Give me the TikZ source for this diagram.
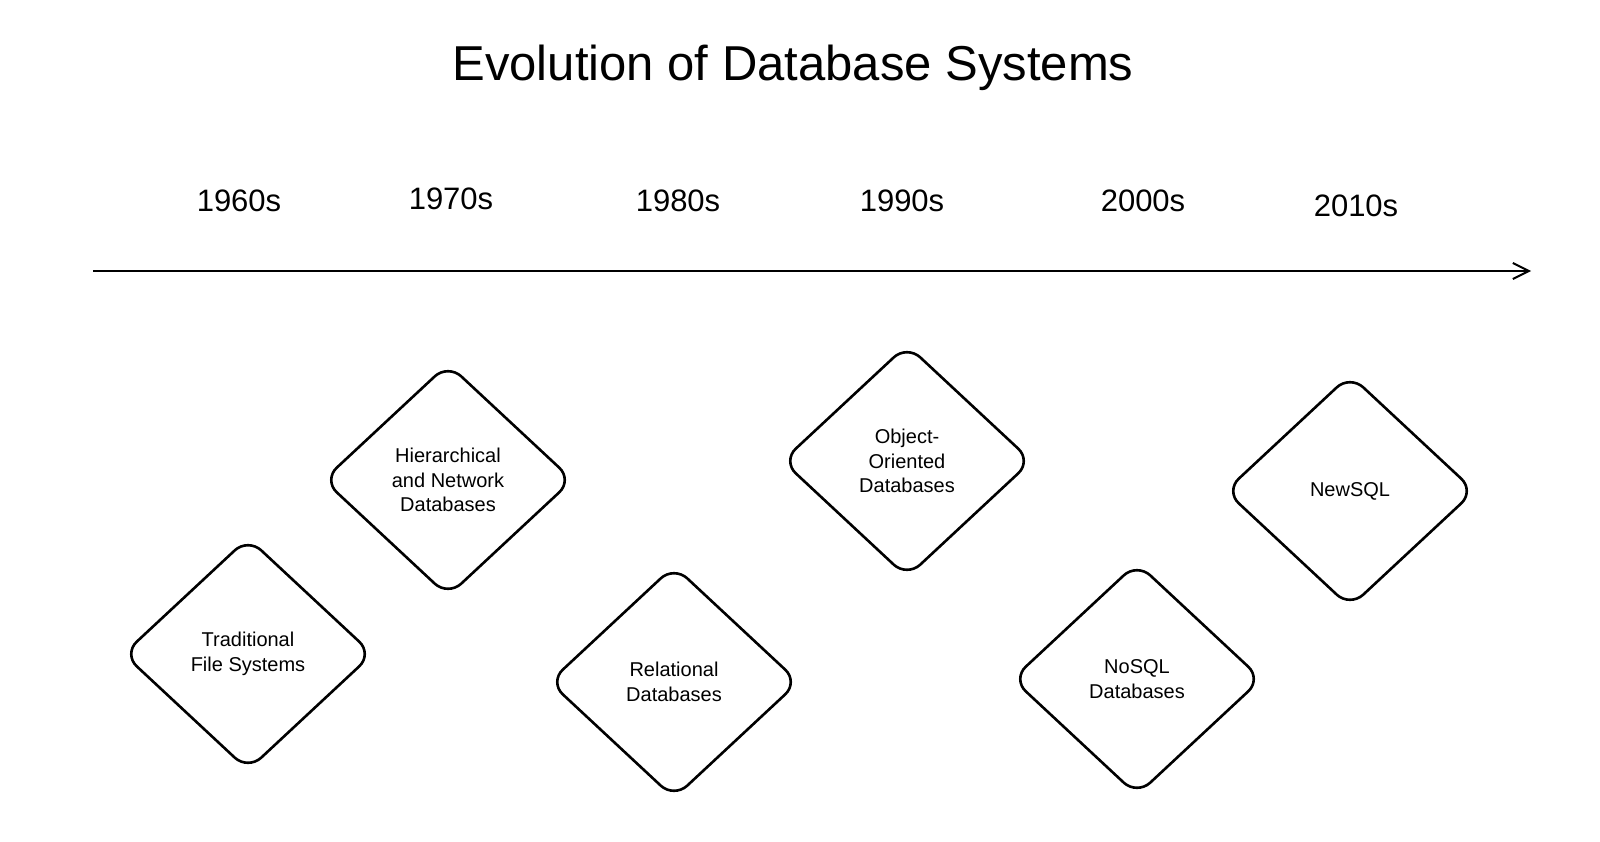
\documentclass[tikz,border=0pt]{standalone}
\usepackage{fontspec}
\setmainfont{Liberation Sans}
\usetikzlibrary{shapes.geometric,arrows.meta}
\tikzset{
  era/.style={diamond, draw=black, line width=1.3pt, rounded corners=9pt,
    minimum width=125pt, minimum height=116.5pt, inner sep=0pt, align=center,
    font=\fontsize{10}{12.3}\selectfont},
  year/.style={font=\fontsize{15.5}{18}\selectfont},
  axis/.style={line width=1pt, -{Straight Barb[length=8pt,width=8pt,line width=1pt]}}
}
\begin{document}
\begin{tikzpicture}[x=0.5pt,y=-0.5pt]
\useasboundingbox (0,0) rectangle (1600,841);
\node[font=\fontsize{24.5}{28}\selectfont] (title) at (793,68) {Evolution of Database Systems};
\node[year] (y60) at (239,201) {1960s};
\node[year] (y70) at (451,199) {1970s};
\node[year] (y80) at (678,201) {1980s};
\node[year] (y90) at (902,201) {1990s};
\node[year] (y00) at (1143,201) {2000s};
\node[year] (y10) at (1356,206) {2010s};
\coordinate (a0) at (93,271);
\coordinate (a1) at (1531,271);
\draw[axis] (a0) -- (a1);
\node[era] (trad) at (248,654) {Traditional\\File Systems};
\node[era] (hier) at (448,480) {Hierarchical\\and Network\\Databases};
\node[era] (rel) at (674,682) {Relational\\Databases};
\node[era] (oo) at (907,461) {Object-\\Oriented\\Databases};
\node[era] (nosql) at (1137,679) {NoSQL\\Databases};
\node[era] (newsql) at (1350,491) {NewSQL};
\end{tikzpicture}
\end{document}
